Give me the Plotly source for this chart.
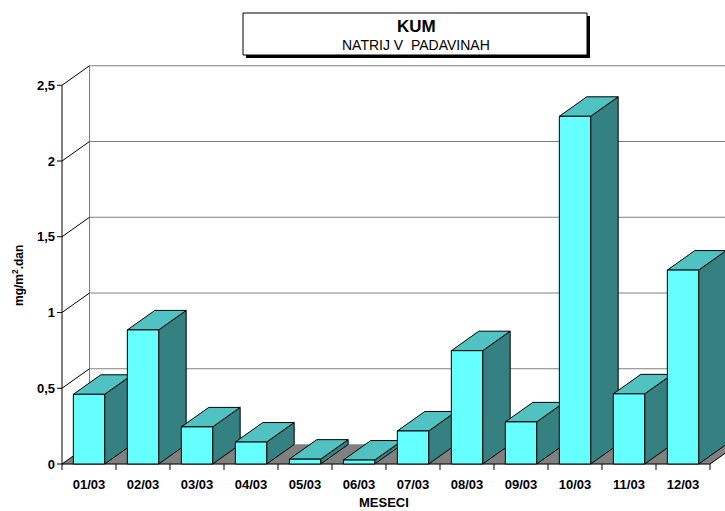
import plotly.graph_objects as go

# Monthly sodium deposition in precipitation, station KUM
months = ["01/03", "02/03", "03/03", "04/03", "05/03", "06/03",
          "07/03", "08/03", "09/03", "10/03", "11/03", "12/03"]
sodium = [0.46, 0.885, 0.245, 0.145, 0.032, 0.026,
          0.218, 0.748, 0.278, 2.295, 0.463, 1.28]
y_ticks = [0, 0.5, 1, 1.5, 2, 2.5]
y_tick_text = ["0", "0,5", "1", "1,5", "2", "2,5"]

# Pseudo-3D geometry (category units horizontally, value units vertically)
PX_CAT = 54.0       # pixels per category
PX_VAL = 151.5      # pixels per unit of value
DX = 27.5 / PX_CAT  # depth offset to the right
DY = 19.5 / PX_VAL  # depth offset upwards
HW = 0.29           # half width of a bar's front face

W, H = 725, 511
L, R, T, B = 56, 725, 60, 471   # plot area in pixels
X_AXIS_PX, Y0_PX = 62, 464      # front-left corner of the floor

x_range = [-0.5 - (X_AXIS_PX - L) / PX_CAT, -0.5 + (R - X_AXIS_PX) / PX_CAT]
y_range = [-(B - Y0_PX) / PX_VAL, (Y0_PX - T) / PX_VAL]


def px2x(px):
    return (px - L) / (R - L)


def px2y(py):
    return (B - py) / (B - T)


FRONT = "#66FFFF"
TOP = "#50C2C2"
SIDE = "#358080"
FLOOR = "#808080"
GRID = "#808080"

fig = go.Figure()


def poly(xs, ys, fill, line_color="black", width=1):
    fig.add_trace(go.Scatter(
        x=xs, y=ys, mode="lines", fill="toself" if fill else None,
        fillcolor=fill, line=dict(color=line_color, width=width),
        hoverinfo="skip", showlegend=False))


def lines(xs, ys, color, width=1):
    fig.add_trace(go.Scatter(
        x=xs, y=ys, mode="lines", line=dict(color=color, width=width),
        hoverinfo="skip", showlegend=False, connectgaps=False))


n = len(months)
x_left, x_right = -0.5, n - 0.5
far_right = x_range[1] + 1

# Floor
poly([x_left, x_right, x_right + DX, x_left + DX, x_left],
     [0, 0, DY, DY, 0], FLOOR, line_color=FLOOR, width=0.5)

# Back wall: left edge, horizontal gridlines and top edge
gx, gy = [x_left + DX, x_left + DX, None], [DY, y_ticks[-1] + DY, None]
for v in y_ticks[1:]:
    gx += [x_left + DX, far_right, None]
    gy += [v + DY, v + DY, None]
lines(gx, gy, GRID)

# Side wall diagonals
sx, sy = [], []
for v in y_ticks:
    sx += [x_left, x_left + DX, None]
    sy += [v, v + DY, None]
lines(sx, sy, "black")

# Front axis lines and tick marks
tick_dx = 5 / PX_CAT
tick_dy = 6 / PX_VAL
ax, ay = [x_left, x_left, None, x_left, x_right, None], [0, y_ticks[-1], None, 0, 0, None]
for v in y_ticks:
    ax += [x_left - tick_dx, x_left, None]
    ay += [v, v, None]
for k in range(n + 1):
    ax += [x_left + k, x_left + k, None]
    ay += [0, -tick_dy, None]
ax += [x_right, x_right + DX, None]
ay += [0, DY, None]
lines(ax, ay, "black")

# Bars: side faces, top faces, then front faces
side_x, side_y, top_x, top_y, front_x, front_y = [], [], [], [], [], []
for i, v in enumerate(sodium):
    a, b = i - HW, i + HW
    side_x += [b, b, b + DX, b + DX, b, None]
    side_y += [0, v, v + DY, DY, 0, None]
    top_x += [a, b, b + DX, a + DX, a, None]
    top_y += [v, v, v + DY, v + DY, v, None]
    front_x += [a, b, b, a, a, None]
    front_y += [0, 0, v, v, 0, None]
poly(side_x, side_y, SIDE)
poly(top_x, top_y, TOP)
poly(front_x, front_y, FRONT)

font_family = "Liberation Sans, Arial, sans-serif"

fig.update_layout(
    width=W, height=H,
    margin=dict(l=L, r=W - R, t=T, b=H - B, pad=0),
    paper_bgcolor="white", plot_bgcolor="white",
    font=dict(family=font_family, color="black"),
    xaxis=dict(range=x_range, showgrid=False, zeroline=False, showline=False,
               tickmode="array", tickvals=list(range(n)), ticktext=months,
               ticks="", ticklabelstandoff=4,
               tickfont=dict(size=13, weight="bold"), fixedrange=True),
    yaxis=dict(range=y_range, showgrid=False, zeroline=False, showline=False,
               tickmode="array", tickvals=y_ticks, ticktext=y_tick_text,
               ticks="", tickfont=dict(size=13, weight="bold"), fixedrange=True),
    shapes=[
        dict(type="rect", xref="paper", yref="paper",
             x0=px2x(246), x1=px2x(590), y0=px2y(58), y1=px2y(16),
             fillcolor="black", line=dict(width=0)),
        dict(type="rect", xref="paper", yref="paper",
             x0=px2x(243), x1=px2x(587), y0=px2y(55), y1=px2y(13),
             fillcolor="white", line=dict(color="black", width=1)),
    ],
    annotations=[
        dict(text="<b>KUM</b>", xref="paper", yref="paper",
             x=px2x(416), y=px2y(27), showarrow=False,
             font=dict(size=17), xanchor="center", yanchor="middle"),
        dict(text="NATRIJ V&nbsp;&nbsp;PADAVINAH", xref="paper", yref="paper",
             x=px2x(416), y=px2y(45), showarrow=False,
             font=dict(size=14), xanchor="center", yanchor="middle"),
        dict(text="<b>mg/m<sup>2</sup>.dan</b>", xref="paper", yref="paper",
             x=px2x(18), y=px2y(276), showarrow=False, textangle=-90,
             font=dict(size=12), xanchor="center", yanchor="middle"),
        dict(text="<b>MESECI</b>", xref="paper", yref="paper",
             x=px2x(384), y=px2y(503), showarrow=False,
             font=dict(size=13), xanchor="center", yanchor="middle"),
    ],
)

fig.write_html("out.html")
